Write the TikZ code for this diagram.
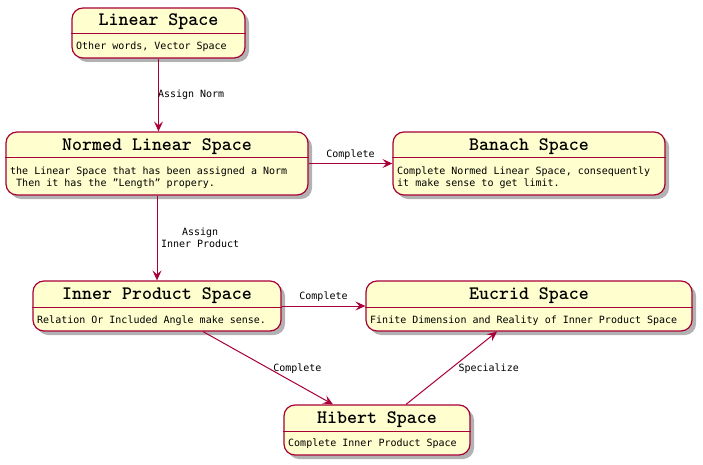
\documentclass[tikz,border=0pt]{standalone}
\usepackage{fontspec}
\newfontfamily\bodyfont{DejaVu Sans Mono}
\usetikzlibrary{arrows.meta,shadows,calc}
\definecolor{uborder}{HTML}{A80036}
\definecolor{ufill}{HTML}{FEFECE}
\tikzset{
  state/.style={draw=uborder, fill=ufill, line width=1.2pt, rounded corners=11pt, inner sep=0pt,
    drop shadow={shadow xshift=4pt, shadow yshift=-4pt, opacity=0.3, fill=black}},
  titletext/.style={font=\ttfamily\bfseries\fontsize{19}{21}\selectfont, inner sep=0pt},
  bodytext/.style={font=\bodyfont\fontsize{10}{12}\selectfont, align=left, anchor=west, inner sep=0pt},
  sepline/.style={draw=uborder, line width=1pt},
  conn/.style={draw=uborder, line width=1pt, -{Stealth[length=10pt,width=9pt,inset=4pt]}},
  elabel/.style={font=\bodyfont\fontsize{10}{12}\selectfont, inner sep=0.5pt, text=black}
}
\begin{document}
\begin{tikzpicture}[x=1pt,y=-1pt]
\useasboundingbox (0,0) rectangle (703,465);
% Linear Space
\node[state, minimum width=173pt, minimum height=50pt] (lin) at (158.5,33) {};
\draw[sepline] (lin.west |- 0,34) -- (lin.east |- 0,34);
\node[titletext] (linT) at (158.5,22) {Linear Space};
\node[bodytext] (linB) at (76,46.5) {Other words, Vector Space};
% Normed Linear Space
\node[state, minimum width=302pt, minimum height=63pt] (norm) at (157,163.5) {};
\draw[sepline] (norm.west |- 0,158) -- (norm.east |- 0,158);
\node[titletext] (normT) at (157,147) {Normed Linear Space};
\node[bodytext] (normB) at (10,177.5) {the Linear Space that has been assigned a Norm\\\ Then it has the ”Length” propery.};
% Banach Space
\node[state, minimum width=272pt, minimum height=63pt] (ban) at (529,163.5) {};
\draw[sepline] (ban.west |- 0,158) -- (ban.east |- 0,158);
\node[titletext] (banT) at (529,147) {Banach Space};
\node[bodytext] (banB) at (397,177.5) {Complete Normed Linear Space, consequently\\it make sense to get limit.};
% Inner Product Space
\node[state, minimum width=248pt, minimum height=50pt] (inn) at (157,306) {};
\draw[sepline] (inn.west |- 0,307) -- (inn.east |- 0,307);
\node[titletext] (innT) at (157,295.5) {Inner Product Space};
\node[bodytext] (innB) at (37,320.5) {Relation Or Included Angle make sense.};
% Eucrid Space
\node[state, minimum width=326pt, minimum height=50pt] (euc) at (529,306) {};
\draw[sepline] (euc.west |- 0,307) -- (euc.east |- 0,307);
\node[titletext] (eucT) at (529,295.5) {Eucrid Space};
\node[bodytext] (eucB) at (370,320.5) {Finite Dimension and Reality of Inner Product Space};
% Hibert Space
\node[state, minimum width=186pt, minimum height=50pt] (hib) at (377,430) {};
\draw[sepline] (hib.west |- 0,431) -- (hib.east |- 0,431);
\node[titletext] (hibT) at (377,419.5) {Hibert Space};
\node[bodytext] (hibB) at (288,443.5) {Complete Inner Product Space};
% connectors
\draw[conn] (lin.south) -- node[elabel, anchor=west, xshift=-1.5pt] {Assign Norm} (lin.south |- norm.north);
\draw[conn] (norm.east) -- node[elabel, above=3pt] {Complete} (ban.west);
\draw[conn] (norm.south) -- node[elabel, anchor=west, align=center, xshift=3pt] {Assign\\Inner Product} (inn.north);
\draw[conn] (inn.east) -- node[elabel, above=3pt] {Complete} (euc.west);
\draw[conn] ([xshift=46pt]inn.south) -- node[elabel, anchor=west, pos=0.51, xshift=3pt] {Complete} ([xshift=-44pt]hib.north);
\draw[conn] ([xshift=29pt]hib.north) -- node[elabel, anchor=west, pos=0.49, xshift=7pt] {Specialize} ([xshift=-32pt]euc.south);
\end{tikzpicture}
\end{document}
